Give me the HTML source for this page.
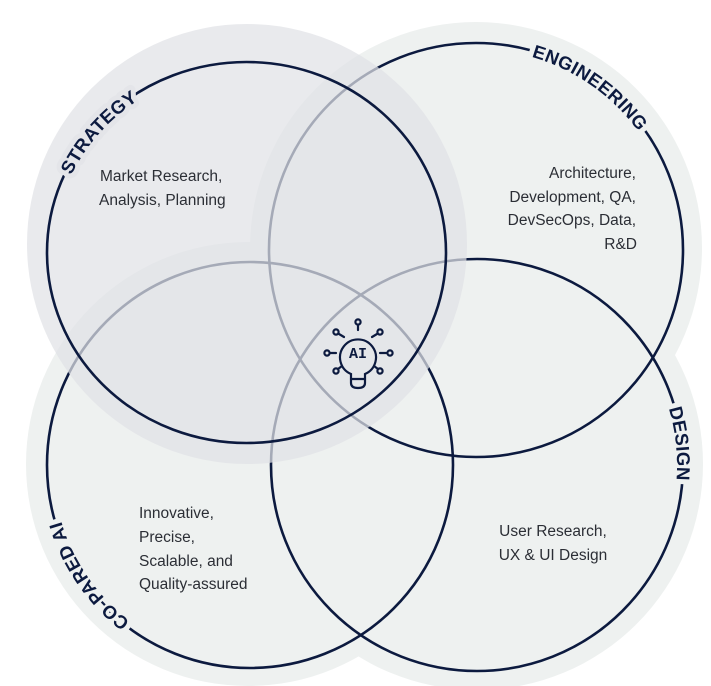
<!DOCTYPE html>
<html><head><meta charset="utf-8"><style>
html,body{margin:0;padding:0;background:#fff;}
svg{display:block;}
.b{font-family:"Liberation Sans",sans-serif;font-size:15.5px;fill:#2b2e35;}
.l{font-family:"Liberation Sans",sans-serif;font-size:18.5px;font-weight:bold;fill:#0c1a3f;letter-spacing:0.3px;}
.g{font-family:"Liberation Sans",sans-serif;font-size:18.5px;font-weight:bold;letter-spacing:0.3px;stroke-width:10px;stroke-linejoin:round;}
</style></head><body>
<svg width="711" height="686" viewBox="0 0 711 686" xmlns="http://www.w3.org/2000/svg">
<defs>
<path id="pS" d="M54.2,236.5 A193,184 0 0 1 196.6,74.8"/>
<path id="pE" d="M493.5,49.8 A201,201 0 0 1 658.2,165"/>
<path id="pD" d="M638.8,347.4 A200,200 0 0 1 659.7,546.3"/>
<path id="pC" d="M166.7,643.5 A197,197 0 0 1 53.5,478.7"/>
</defs>
<circle cx="476" cy="248" r="226" fill="#eef1f0"/>
<circle cx="248" cy="464" r="222" fill="#eef1f0"/>
<circle cx="477" cy="464" r="226" fill="#eef1f0"/>
<g fill="none" stroke="#0c1a3f" stroke-width="2.6">
<circle cx="476" cy="250" r="207"/>
<circle cx="250" cy="465" r="203"/>
<circle cx="477" cy="465" r="206"/>
</g>
<circle cx="247" cy="244" r="220" fill="#e1e2e6" opacity="0.72"/>
<ellipse cx="246.5" cy="252.5" rx="199.5" ry="190.5" fill="none" stroke="#0c1a3f" stroke-width="2.6"/>
<!-- gaps -->
<text class="g" fill="#e4e5e9" stroke="#e4e5e9"><textPath href="#pS" startOffset="50%" text-anchor="middle">STRATEGY</textPath></text>
<text class="g" fill="#eef1f0" stroke="#eef1f0"><textPath href="#pE" startOffset="50%" text-anchor="middle">ENGINEERING</textPath></text>
<text class="g" fill="#eef1f0" stroke="#eef1f0"><textPath href="#pD" startOffset="50%" text-anchor="middle">DESIGN</textPath></text>
<text class="g" fill="#eef1f0" stroke="#eef1f0"><textPath href="#pC" startOffset="50%" text-anchor="middle">CO-PARED AI</textPath></text>
<!-- labels -->
<text class="l"><textPath href="#pS" startOffset="50%" text-anchor="middle">STRATEGY</textPath></text>
<text class="l"><textPath href="#pE" startOffset="50%" text-anchor="middle">ENGINEERING</textPath></text>
<text class="l"><textPath href="#pD" startOffset="50%" text-anchor="middle">DESIGN</textPath></text>
<text class="l"><textPath href="#pC" startOffset="50%" text-anchor="middle">CO-PARED AI</textPath></text>
<text class="b" x="100" y="181">Market Research,</text>
<text class="b" x="99" y="205">Analysis, Planning</text>
<g text-anchor="end">
<text class="b" x="636" y="178">Architecture,</text>
<text class="b" x="636" y="202">Development, QA,</text>
<text class="b" x="636" y="225">DevSecOps, Data,</text>
<text class="b" x="637" y="249">R&amp;D</text>
</g>
<text class="b" x="139" y="518">Innovative,</text>
<text class="b" x="139" y="542">Precise,</text>
<text class="b" x="139" y="566">Scalable, and</text>
<text class="b" x="139" y="589">Quality-assured</text>
<text class="b" x="553" y="536" text-anchor="middle">User Research,</text>
<text class="b" x="553" y="560" text-anchor="middle">UX &amp; UI Design</text>
<g fill="none" stroke="#0c1a3f" stroke-width="2.2" stroke-linecap="round">
<path d="M351,374 A18,18 0 1 1 365,374 L365,383 Q365,388 358,388 Q351,388 351,383 Z"/>
<line x1="351" y1="379" x2="365" y2="379"/>
<line x1="358" y1="330" x2="358" y2="326"/>
<line x1="344" y1="337" x2="339" y2="334"/>
<line x1="372" y1="337" x2="377" y2="334"/>
<line x1="336" y1="353" x2="331" y2="353"/>
<line x1="380" y1="353" x2="386" y2="353"/>
<line x1="342" y1="366" x2="338" y2="369"/>
<line x1="374" y1="366" x2="378" y2="369"/>
<circle cx="358" cy="322" r="2.6"/>
<circle cx="336" cy="332" r="2.6"/>
<circle cx="380" cy="332" r="2.6"/>
<circle cx="327" cy="353" r="2.6"/>
<circle cx="390" cy="353" r="2.6"/>
<circle cx="336" cy="371" r="2.6"/>
<circle cx="380" cy="371" r="2.6"/>
</g>
<text x="358" y="358" text-anchor="middle" font-family="Liberation Mono, monospace" font-weight="bold" font-size="15" fill="#0c1a3f">AI</text>
</svg>
</body></html>
